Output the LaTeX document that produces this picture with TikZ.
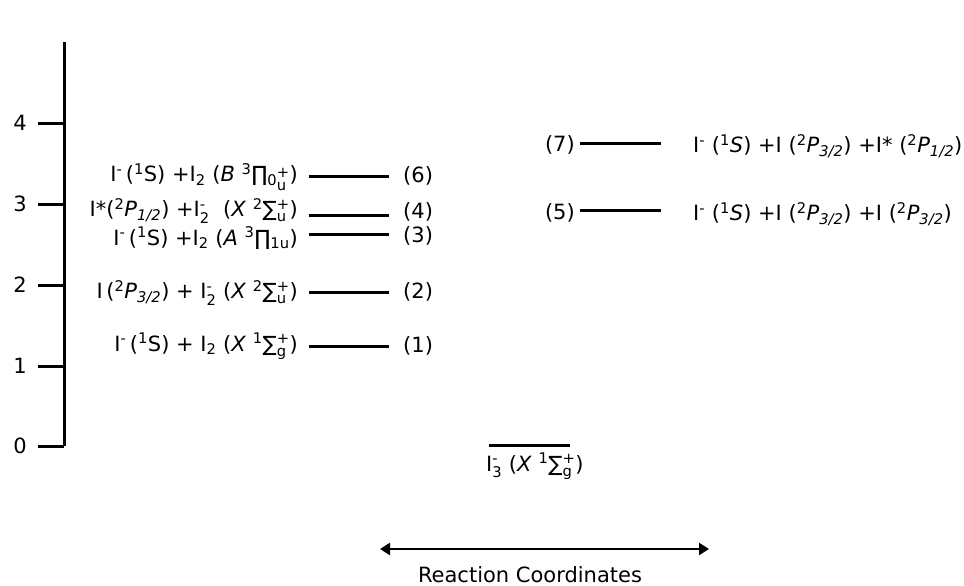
\documentclass[tikz,border=0pt]{standalone}
\usepackage{amsmath}
\usepackage{fontspec}
\setmainfont{DejaVu Sans}
\usetikzlibrary{arrows.meta}
\newcommand{\myPi}{\symbol{"220F}}
\newcommand{\mySg}{\symbol{"2211}}
\newcommand{\tsb}[1]{$_{\text{#1}}$}
\newcommand{\tsbsp}[2]{$^{\text{#1}}_{\text{#2}}$}
\begin{document}
\begin{tikzpicture}[x=1pt,y={(0pt,-1pt)},
  lvl/.style={line width=3pt},
  lab/.style={font=\fontsize{21}{24}\selectfont, inner sep=0pt},
  axis/.style={line width=3pt}]
\useasboundingbox (0,0) rectangle (964,586);
% axis
\coordinate (top) at (64,42);
\coordinate (bot) at (64,446);
\draw[axis] (top) -- (bot);
\foreach \v/\yy in {0/446,1/366,2/285,3/204,4/123}{
  \coordinate (t\v) at (38,\yy);
  \coordinate (a\v) at (64,\yy);
  \draw[axis] (t\v) -- (a\v);
  \node[lab, anchor=east] (tl\v) at (27,\yy) {\v};
}
% left levels
\foreach \n/\yy in {6/176,4/215,3/234,2/292,1/346}{
  \coordinate (L\n a) at (309,\yy);
  \coordinate (L\n b) at (389,\yy);
  \draw[lvl] (L\n a) -- (L\n b);
}
\node[lab, anchor=west] (n6) at (403,176) {(6)};
\node[lab, anchor=west] (n4) at (403,212) {(4)};
\node[lab, anchor=west] (n3) at (403,236) {(3)};
\node[lab, anchor=west] (n2) at (403,292) {(2)};
\node[lab, anchor=west] (n1) at (403,346) {(1)};
\node[lab, anchor=east] (s6) at (298,177) {I\textsuperscript{-}\,(\textsuperscript{1}S) +I\tsb{2} (\textit{B} \textsuperscript{3}\myPi\tsb{0}\kern-0.5pt\raisebox{-0.3ex}{\tsbsp{+}{u}})};
\node[lab, anchor=east] (s4) at (298,211) {I*(\textsuperscript{2}\textit{P}\tsb{\itshape 1/2}) +I\tsbsp{-}{2}\ \ (\textit{X} \textsuperscript{2}\mySg\tsbsp{+}{u})};
\node[lab, anchor=east] (s3) at (298,238) {I\textsuperscript{-}\,(\textsuperscript{1}S) +I\tsb{2} (\textit{A} \textsuperscript{3}\myPi\tsb{1u})};
\node[lab, anchor=east] (s2) at (298,293) {I\,(\textsuperscript{2}\textit{P}\tsb{\itshape 3/2}) + I\tsbsp{-}{2} (\textit{X} \textsuperscript{2}\mySg\tsbsp{+}{u})};
\node[lab, anchor=east] (s1) at (298,346) {I\textsuperscript{-}\,(\textsuperscript{1}S) + I\tsb{2} (\textit{X} \textsuperscript{1}\mySg\tsbsp{+}{g})};
% right levels
\coordinate (R7a) at (580,143); \coordinate (R7b) at (661,143);
\coordinate (R5a) at (580,210); \coordinate (R5b) at (661,210);
\draw[lvl] (R7a) -- (R7b);
\draw[lvl] (R5a) -- (R5b);
\node[lab, anchor=east] (n7) at (575,145) {(7)};
\node[lab, anchor=east] (n5) at (575,213) {(5)};
\node[lab, anchor=west] (s7) at (693,146) {I\textsuperscript{-} (\textsuperscript{1}\textit{S}) +I (\textsuperscript{2}\textit{P}\tsb{\itshape 3/2}) +I* (\textsuperscript{2}\textit{P}\tsb{\itshape 1/2})};
\node[lab, anchor=west] (s5) at (693,214) {I\textsuperscript{-} (\textsuperscript{1}\textit{S}) +I (\textsuperscript{2}\textit{P}\tsb{\itshape 3/2}) +I (\textsuperscript{2}\textit{P}\tsb{\itshape 3/2})};
% ground
\coordinate (G0a) at (489,445); \coordinate (G0b) at (570,445);
\draw[lvl] (G0a) -- (G0b);
\node[lab, anchor=base west] (s0) at (486,471) {I\tsbsp{-}{3} (\textit{X} \textsuperscript{1}\mySg\tsbsp{+}{g})};
% reaction coordinate arrow
\coordinate (arL) at (380,549);
\coordinate (arR) at (709,549);
\draw[line width=2.5pt, {Triangle[length=10pt,width=12pt]}-{Triangle[length=10pt,width=12pt]}] (arL) -- (arR);
\node[lab, anchor=base, text depth=0pt] (rc) at (530,582) {Reaction Coordinates};
\end{tikzpicture}
\end{document}
